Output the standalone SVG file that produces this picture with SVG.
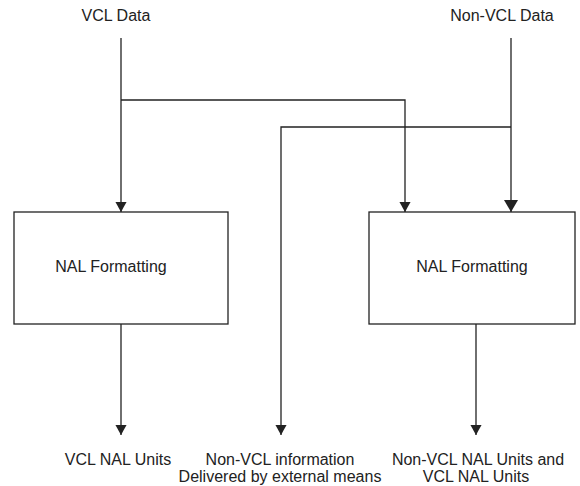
<svg xmlns="http://www.w3.org/2000/svg" width="580" height="486" viewBox="0 0 580 486">
  <style>
    text { font-family: "Liberation Sans", Arial, Helvetica, sans-serif; font-size: 16px; fill: #222; }
    .mid { text-anchor: middle; }
    .box { fill: #fff; stroke: #222; stroke-width: 1.3; }
    .wire { fill: none; stroke: #222; stroke-width: 1.3; }
  </style>
  <defs>
    <marker id="arrow" markerUnits="userSpaceOnUse" markerWidth="10" markerHeight="12" viewBox="0 -5 9 10" refX="9" refY="0" orient="auto">
      <path d="M0,-5 L9,0 L0,5 z" fill="#222"/>
    </marker>
    <marker id="arrowBig" markerUnits="userSpaceOnUse" markerWidth="12" markerHeight="14" viewBox="0 -7 12 14" refX="12" refY="0" orient="auto">
      <path d="M0,-7 L12,0 L0,7 z" fill="#222"/>
    </marker>
  </defs>
  <rect width="580" height="486" fill="#fff"/>

  <!-- sources -->
  <g id="vcl-data"><text class="mid" x="116" y="21">VCL Data</text></g>
  <g id="nonvcl-data"><text class="mid" x="502" y="21">Non-VCL Data</text></g>

  <!-- formatting blocks -->
  <g id="nal-left">
    <rect class="box" x="14" y="212" width="214" height="112"/>
    <text class="mid" x="111" y="272">NAL Formatting</text>
  </g>
  <g id="nal-right">
    <rect class="box" x="369" y="212" width="206" height="112"/>
    <text class="mid" x="472" y="272">NAL Formatting</text>
  </g>

  <!-- outputs -->
  <g id="out-vcl"><text class="mid" x="118" y="465">VCL NAL Units</text></g>
  <g id="out-external">
    <text class="mid" x="280" y="465">Non-VCL information</text>
    <text class="mid" x="280" y="482">Delivered by external means</text>
  </g>
  <g id="out-mixed">
    <text class="mid" x="478" y="465">Non-VCL NAL Units and</text>
    <text class="mid" x="476" y="482">VCL NAL Units</text>
  </g>

  <!-- connectors -->
  <g id="connectors">
    <path class="wire" d="M121,38 V212" marker-end="url(#arrow)"/>
    <path class="wire" d="M121,100 H405 V212" marker-end="url(#arrow)"/>
    <path class="wire" d="M511,38 V212" marker-end="url(#arrowBig)"/>
    <path class="wire" d="M511,127 H281 V435" marker-end="url(#arrow)"/>
    <path class="wire" d="M121,324 V435" marker-end="url(#arrow)"/>
    <path class="wire" d="M476,324 V435" marker-end="url(#arrow)"/>
  </g>
</svg>
